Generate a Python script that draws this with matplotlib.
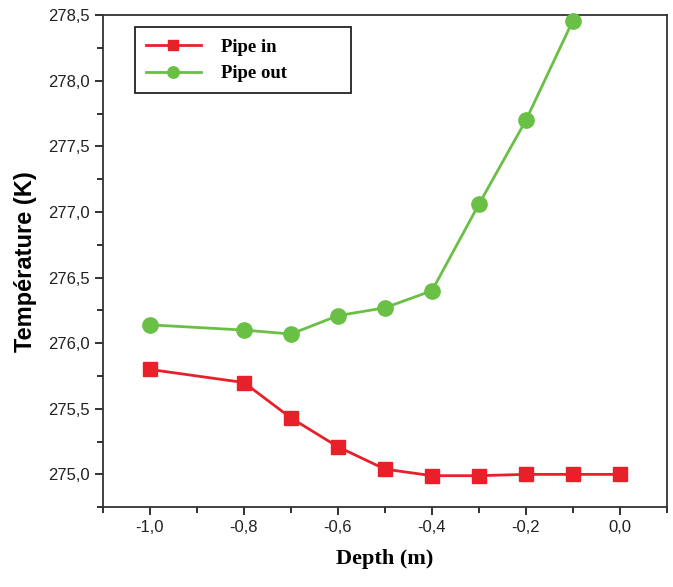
import matplotlib
matplotlib.use("Agg")
import matplotlib.pyplot as plt
from matplotlib.ticker import FuncFormatter, MultipleLocator

depth_in = [-1.0, -0.8, -0.7, -0.6, -0.5, -0.4, -0.3, -0.2, -0.1, 0.0]
temp_in = [275.80, 275.70, 275.43, 275.21, 275.04, 274.99, 274.99, 275.00, 275.00, 275.00]

depth_out = [-1.0, -0.8, -0.7, -0.6, -0.5, -0.4, -0.3, -0.2, -0.1]
temp_out = [276.14, 276.10, 276.07, 276.21, 276.27, 276.40, 277.06, 277.70, 278.46]

fig = plt.figure(figsize=(6.73, 5.87), dpi=100)
ax = fig.add_axes([0.153, 0.136, 0.838, 0.838])

ax.plot(depth_in, temp_in, color="#e8202a", lw=2, marker="s", ms=10,
        mec="#e8202a", mfc="#e8202a", label="Pipe in", clip_on=False, zorder=3)
ax.plot(depth_out, temp_out, color="#6abf45", lw=2, marker="o", ms=11,
        mec="#6abf45", mfc="#6abf45", label="Pipe out", clip_on=False, zorder=3)

ax.set_xlim(-1.1, 0.1)
ax.set_ylim(274.75, 278.5)

comma = lambda fmt: FuncFormatter(lambda v, p: (fmt % v).replace(".", ","))
ax.xaxis.set_major_locator(MultipleLocator(0.2))
ax.xaxis.set_minor_locator(MultipleLocator(0.1))
ax.yaxis.set_major_locator(MultipleLocator(0.5))
ax.yaxis.set_minor_locator(MultipleLocator(0.25))
ax.xaxis.set_major_formatter(comma("%.1f"))
ax.yaxis.set_major_formatter(comma("%.1f"))

ax.tick_params(axis="both", which="both", direction="out", top=False, right=False,
               labelsize=12, width=1.3, color="#222222")
ax.tick_params(which="major", length=6)
ax.tick_params(which="minor", length=4)
for lab in ax.get_xticklabels() + ax.get_yticklabels():
    lab.set_family("Liberation Sans")
    lab.set_color("#222222")

for s in ax.spines.values():
    s.set_linewidth(1.3)
    s.set_color("#333333")

ax.set_xlabel("Depth (m)", family="Liberation Serif", fontweight="bold",
              fontsize=16, labelpad=10)
ax.set_ylabel("Température (K)", family="Liberation Sans", fontweight="bold",
              fontsize=17, labelpad=8)

leg = ax.legend(loc="upper left", bbox_to_anchor=(0.0567, 0.8456, 0.383, 0.13),
                mode="expand", borderaxespad=0, fancybox=False,
                framealpha=1, edgecolor="#222222", handlelength=2.9,
                borderpad=0.6, labelspacing=0.5, handletextpad=1.1,
                markerscale=0.75,
                prop={"family": "Liberation Serif", "weight": "bold", "size": 13.5})
leg.get_frame().set_linewidth(1.3)

fig.savefig("out.png", dpi=100)
